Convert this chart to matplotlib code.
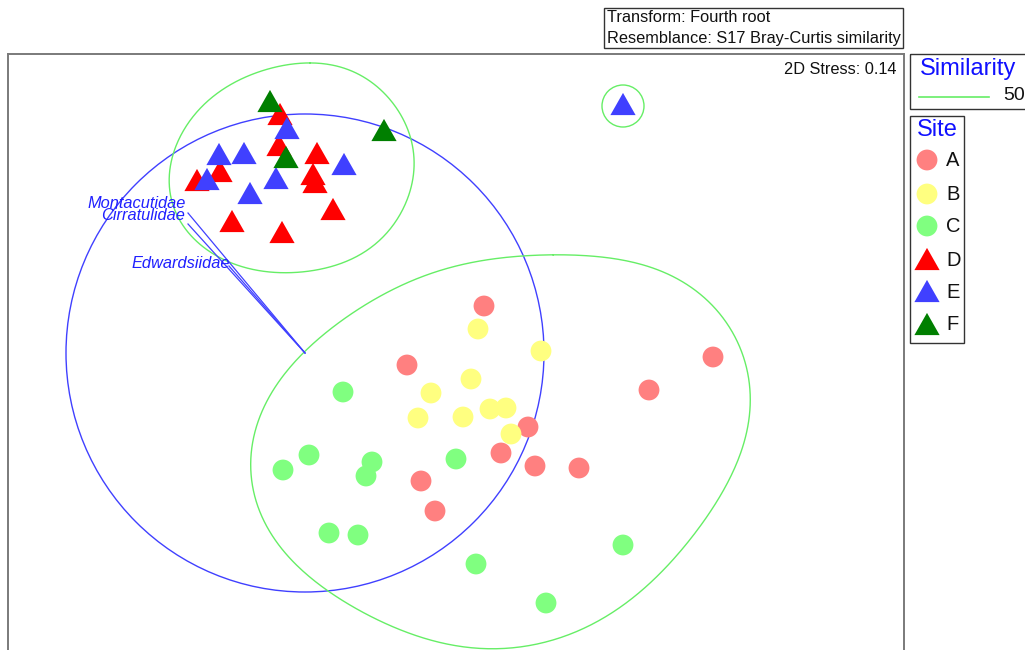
import numpy as np
import matplotlib
matplotlib.use("Agg")
import matplotlib.pyplot as plt
from matplotlib.patches import Rectangle, Circle

plt.rcParams['font.family'] = ['Liberation Sans', 'DejaVu Sans']

# ---------------- data (MDS ordination, plot units; y grows downward) ----------------
A_x = [484, 407, 528, 501, 535, 421, 435, 713, 649, 579]
A_y = [306, 365, 427, 453, 466, 481, 511, 357, 390, 468]
B_x = [478, 541, 471, 431, 418, 463, 490, 506, 511]
B_y = [329, 351, 379, 393, 418, 417, 409, 408, 434]
C_x = [343, 309, 283, 372, 366, 456, 329, 358, 623, 476, 546]
C_y = [392, 455, 470, 462, 476, 459, 533, 535, 545, 564, 603]
D_x = [280, 279, 317, 220, 197, 313, 315, 333, 232, 282]
D_y = [114, 145, 153, 171, 180, 174, 182, 209, 221, 232]
E_x = [287, 219, 244, 344, 207, 276, 250, 623]
E_y = [128, 154, 153, 164, 179, 178, 193, 104]
F_x = [270, 286, 384]
F_y = [101, 157, 130]

sites = ['A', 'B', 'C', 'D', 'E', 'F']
site_colors = ['#FF8080', '#FFFF80', '#80FF80', '#FF0000', '#4040FF', '#007F00']
site_markers = ['o', 'o', 'o', 't', 't', 't']

# similarity 50 contours (closed outlines)
cont1_x = [310, 355, 390, 410, 414, 405, 380, 345, 300, 255, 215, 185, 170, 172, 190, 225, 265]
cont1_y = [63, 72, 100, 135, 165, 205, 240, 262, 272, 270, 255, 228, 195, 160, 120, 88, 70]
cont2_center = (623, 106)
cont2_radius = 21
cont3_x = [553, 623, 673, 720, 743, 750, 747, 733, 713, 683, 657, 617, 573, 530, 483, 433, 380,
           340, 307, 277, 260, 252, 253, 260, 280, 307, 340, 383, 427, 473, 523]
cont3_y = [254, 260, 277, 313, 357, 400, 433, 473, 507, 547, 577, 610, 633, 645, 648, 642, 620,
           600, 573, 543, 517, 467, 440, 413, 380, 350, 323, 293, 275, 263, 256]

# vector overlay
vec_origin = (305, 353)
vec_names = ['Montacutidae', 'Cirratulidae', 'Edwardsiidae']
vec_end_x = [188, 188, 229]
vec_end_y = [213, 224, 266]
vec_label_x = [186, 185, 230]
vec_label_y = [204, 215, 264]
vec_circle_radius = 239

stress = 0.14
similarity_level = 50

# ---------------- helpers ----------------
def closed_spline(xs, ys, n=20):
    P = np.column_stack([xs, ys]).astype(float)
    m = len(P)
    out = []
    for i in range(m):
        p0, p1, p2, p3 = P[(i - 1) % m], P[i], P[(i + 1) % m], P[(i + 2) % m]
        for t in np.linspace(0, 1, n, endpoint=False):
            t2, t3 = t * t, t * t * t
            out.append(0.5 * ((2 * p1) + (-p0 + p2) * t + (2 * p0 - 5 * p1 + 4 * p2 - p3) * t2
                              + (-p0 + 3 * p1 - 3 * p2 + p3) * t3))
    out = np.array(out)
    # resample by arc length and low-pass (Fourier) smooth
    seg = np.hypot(*np.diff(np.vstack([out, out[:1]]), axis=0).T)
    s = np.concatenate([[0], np.cumsum(seg)])
    N = 512
    su = np.linspace(0, s[-1], N, endpoint=False)
    closed = np.vstack([out, out[:1]])
    xr = np.interp(su, s, closed[:, 0])
    yr = np.interp(su, s, closed[:, 1])
    z = np.fft.fft(xr + 1j * yr)
    k = np.fft.fftfreq(N, 1.0 / N)
    z[np.abs(k) > 6] = 0
    zs = np.fft.ifft(z)
    zs = np.append(zs, zs[0])
    return zs.real, zs.imag

tri = [(0, 0.44), (-0.5, -0.44), (0.5, -0.44)]

W, H = 1025, 650
fig = plt.figure(figsize=(W / 100, H / 100), dpi=100)

# main axes: frame left 8, right 904, top 54, bottom beyond image
L, R, T, Bm = 8, 904, 54, 664
ax = fig.add_axes([L / W, 1 - Bm / H, (R - L) / W, (Bm - T) / H])
ax.set_xlim(L, R)
ax.set_ylim(Bm, T)
ax.set_xticks([])
ax.set_yticks([])
for s in ax.spines.values():
    s.set_color('#7A7A7A')
    s.set_linewidth(1.4)

green_line = '#66EE66'
blue_line = '#4040FF'

# vector circle
ax.add_patch(Circle(vec_origin, vec_circle_radius, fill=False, edgecolor=blue_line, lw=1.0, zorder=2))
# contours
x1, y1 = closed_spline(cont1_x, cont1_y)
ax.plot(x1, y1, color=green_line, lw=1.0, zorder=2)
ax.add_patch(Circle(cont2_center, cont2_radius, fill=False, edgecolor=green_line, lw=1.0, zorder=2))
x3, y3 = closed_spline(cont3_x, cont3_y)
ax.plot(x3, y3, color=green_line, lw=1.0, zorder=2)

# vectors
for nm, ex, ey, lx, ly in zip(vec_names, vec_end_x, vec_end_y, vec_label_x, vec_label_y):
    ax.plot([vec_origin[0], ex], [vec_origin[1], ey], color=blue_line, lw=0.9, zorder=3)
    ax.text(lx, ly, nm, color='#2020FF', fontsize=11.8, style='italic', ha='right', va='center', zorder=6)

# points
data = [(A_x, A_y), (B_x, B_y), (C_x, C_y), (D_x, D_y), (E_x, E_y), (F_x, F_y)]
for (xs, ys), c, mk in zip(data, site_colors, site_markers):
    if mk == 'o':
        ax.scatter(xs, ys, s=225, c=c, marker='o', edgecolors='none', zorder=4)
    else:
        ax.scatter(xs, ys, s=330, c=c, marker=tri, edgecolors='none', zorder=5)

ax.text(896, 70, f'2D Stress: {stress:.2f}', fontsize=11.8, ha='right', va='center', color='#111111')

# ---------------- overlay for boxes / legends (figure pixel coordinates) ----------------
ov = fig.add_axes([0, 0, 1, 1], facecolor='none')
ov.set_xlim(0, W)
ov.set_ylim(H, 0)
ov.axis('off')
box_col = '#333333'

# transform box
ov.add_patch(Rectangle((604, 8), 299, 40, fill=False, edgecolor=box_col, lw=1.0))
ov.text(607, 18, 'Transform: Fourth root', fontsize=11.8, va='center', ha='left', color='#111111')
ov.text(607, 38, 'Resemblance: S17 Bray-Curtis similarity', fontsize=11.8, va='center', ha='left', color='#111111')

# similarity legend
ov.add_patch(Rectangle((910, 54), 130, 55, fill=False, edgecolor=box_col, lw=1.0, clip_on=False))
ov.text(920, 69, 'Similarity', fontsize=17, color='#1010FF', va='center', ha='left')
ov.plot([919, 989], [97, 97], color=green_line, lw=1.2)
ov.text(1003, 95, str(similarity_level), fontsize=14, va='center', ha='left', color='#111111')

# site legend
ov.add_patch(Rectangle((910, 116), 54, 227, fill=False, edgecolor=box_col, lw=1.0))
ov.text(937, 130, 'Site', fontsize=17, color='#1010FF', va='center', ha='center')
leg_y = [160, 194, 226, 259, 291, 324]
for site, c, mk, yy in zip(sites, site_colors, site_markers, leg_y):
    if mk == 'o':
        ov.scatter([927], [yy], s=225, c=c, marker='o', edgecolors='none')
    else:
        ov.scatter([927], [yy], s=330, c=c, marker=tri, edgecolors='none')
    ov.text(946, yy + 1, site, fontsize=14.5, va='center', ha='left', color='#111111')

fig.savefig('out.png', dpi=100)
